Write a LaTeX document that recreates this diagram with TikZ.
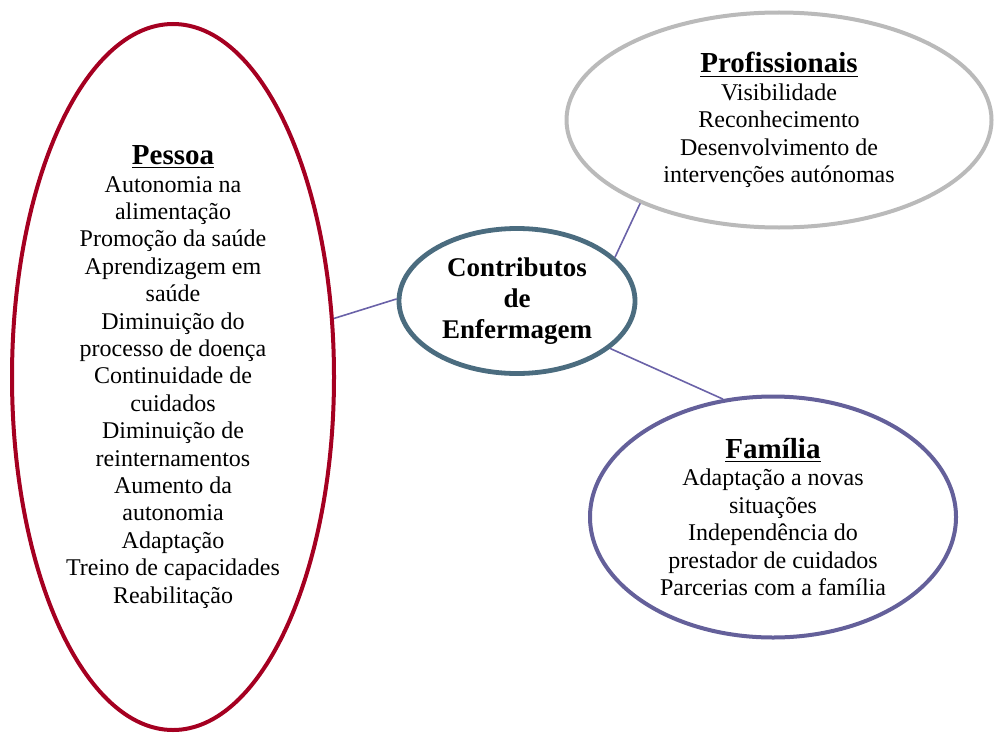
\documentclass[tikz,border=0pt]{standalone}
\usepackage{fontspec}
\setmainfont{Liberation Serif}
\usetikzlibrary{shapes.geometric}
\definecolor{pessoacol}{HTML}{A50021}
\definecolor{centrocol}{HTML}{4B6C7F}
\definecolor{profcol}{HTML}{BABABA}
\definecolor{familiacol}{HTML}{64609A}
\definecolor{linkcol}{HTML}{6A62A8}
\newcommand{\titulo}[1]{{\fontsize{14.5}{16}\selectfont\bfseries\underline{#1}}}
\begin{document}
\begin{tikzpicture}[x=0.5pt,y=-0.5pt,%
% common options for the ellipses:
bubble/.style = {ellipse, draw, line width=2pt, align=center, inner sep=0,
            font=\fontsize{12}{13.7}\selectfont},
% common options for the connectors:
link/.style = {draw=linkcol, line width=0.8pt}]
\useasboundingbox (0,0) rectangle (994,733);
\node[bubble,draw=pessoacol,minimum width=161pt,minimum height=353pt] (pessoa) at (173,377)
  {\titulo{Pessoa}\\Autonomia na\\alimentação\\Promoção da saúde\\Aprendizagem em\\saúde\\
   Diminuição do\\processo de doença\\Continuidade de\\cuidados\\Diminuição de\\
   reinternamentos\\Aumento da\\autonomia\\Adaptação\\Treino de capacidades\\Reabilitação};
\node[bubble,draw=centrocol,line width=2.4pt,minimum width=118pt,minimum height=72.5pt,
  font=\fontsize{13.5}{15.5}\selectfont\bfseries] (centro) at (517,301)
  {Contributos\\de\\Enfermagem};
\node[bubble,draw=profcol,minimum width=212.5pt,minimum height=107.5pt] (prof) at (779,120)
  {\titulo{Profissionais}\\Visibilidade\\Reconhecimento\\Desenvolvimento de\\intervenções autónomas};
\node[bubble,draw=familiacol,minimum width=183pt,minimum height=120.5pt] (familia) at (773,517)
  {\titulo{Família}\\Adaptação a novas\\situações\\Independência do\\prestador de cuidados\\Parcerias com a família};
\draw[link] (pessoa.20) -- (centro.179);
\draw[link] (centro.24) -- (prof.211);
\draw[link] (centro.333) -- (familia.113);
\end{tikzpicture}
\end{document}
